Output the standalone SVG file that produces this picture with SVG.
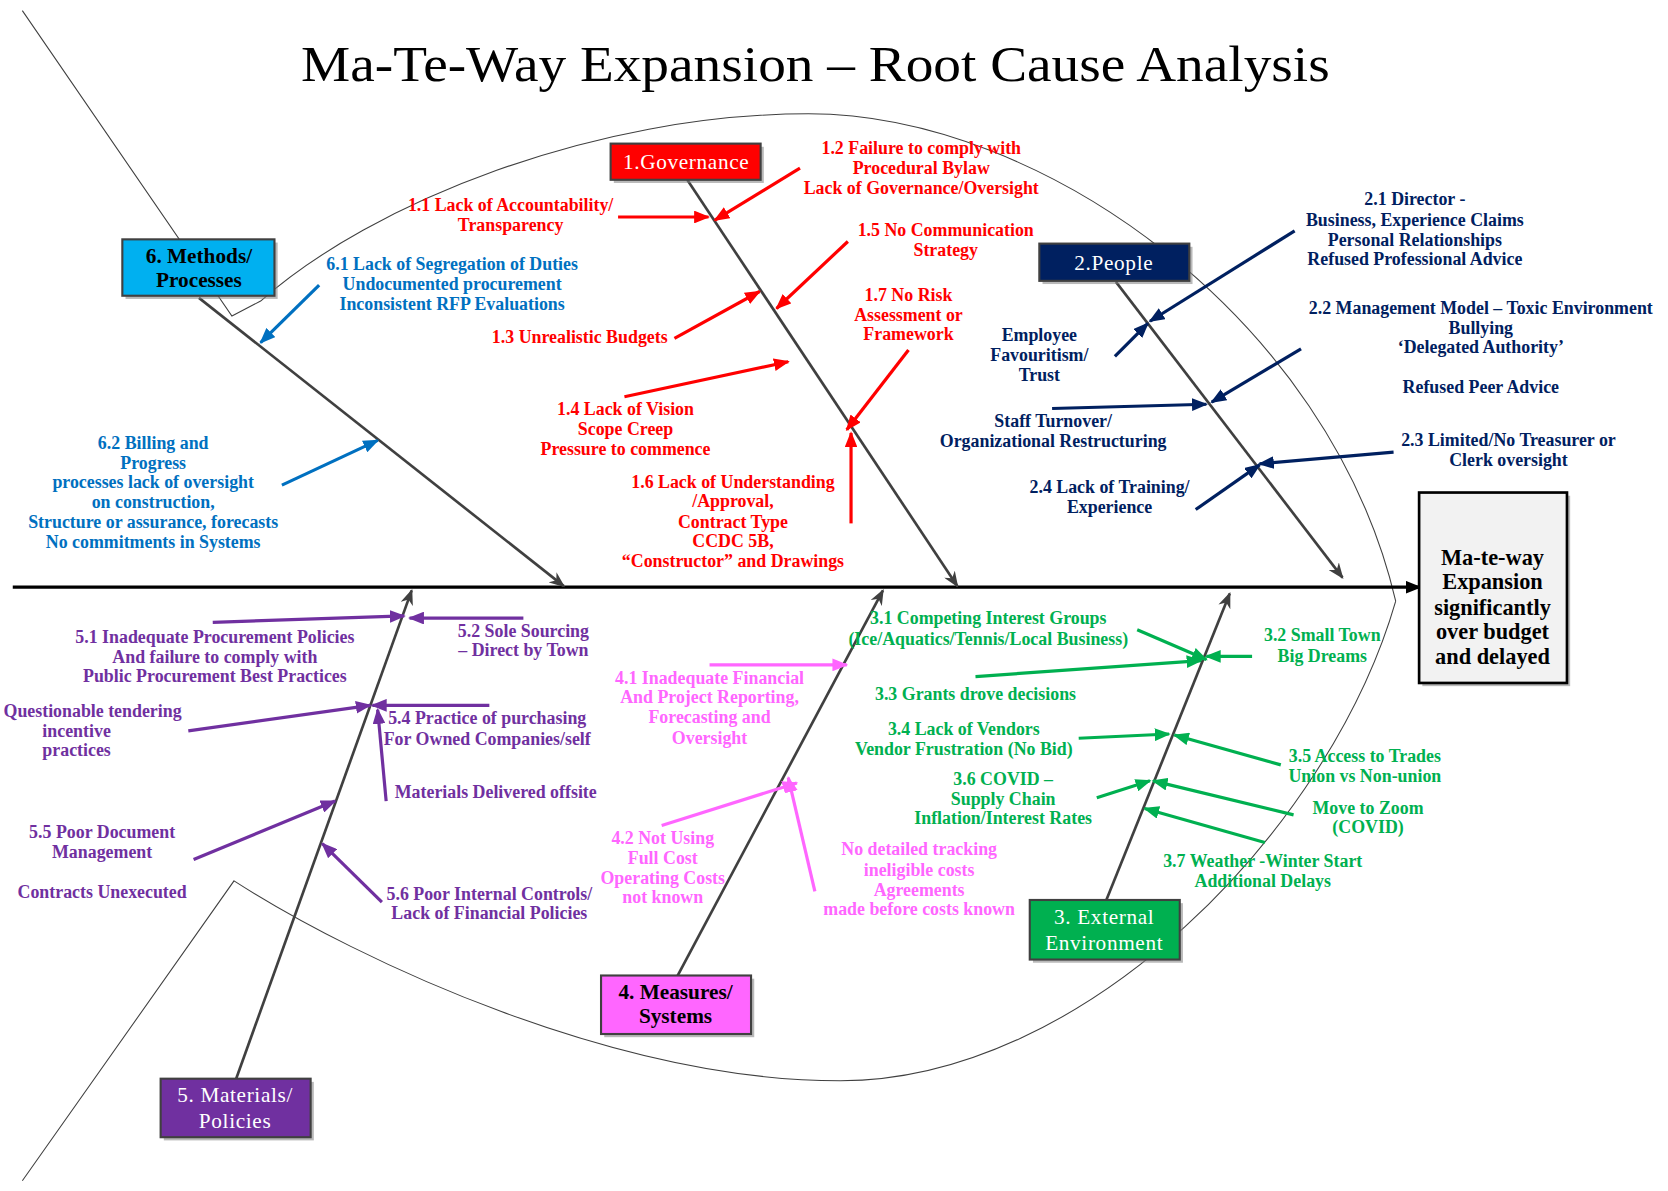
<svg xmlns="http://www.w3.org/2000/svg" width="1668" height="1191" viewBox="0 0 1668 1191">
<style>
text{font-family:"Liberation Serif","Times New Roman",serif;}
.lb{font-size:16.8px;font-weight:bold;text-anchor:middle;}
.r{fill:#ff0000}.p{fill:#002060}.m{fill:#0070c0}.u{fill:#7030a0}.s{fill:#ff66ff}.e{fill:#00b050}
.bx{font-size:20px;text-anchor:middle;}
.w{fill:#ffffff;letter-spacing:0.6px}
.k{fill:#000000;font-weight:bold}
.ef{font-size:21px}
.sh{fill:#808080;opacity:.55}
.bxr{stroke:#404040;stroke-width:2}
.ar{fill:none;stroke-width:3}
.bone{fill:none;stroke:#404040;stroke-width:2.5;marker-end:url(#mg)}
</style>
<defs>
<marker id="mr" viewBox="0 0 10 8" refX="9" refY="4" markerWidth="5" markerHeight="4" orient="auto" markerUnits="strokeWidth"><path d="M0,0 L10,4 L0,8 z" fill="#ff0000"/></marker>
<marker id="mp" viewBox="0 0 10 8" refX="9" refY="4" markerWidth="5" markerHeight="4" orient="auto" markerUnits="strokeWidth"><path d="M0,0 L10,4 L0,8 z" fill="#002060"/></marker>
<marker id="mm" viewBox="0 0 10 8" refX="9" refY="4" markerWidth="5" markerHeight="4" orient="auto" markerUnits="strokeWidth"><path d="M0,0 L10,4 L0,8 z" fill="#0070c0"/></marker>
<marker id="mu" viewBox="0 0 10 8" refX="9" refY="4" markerWidth="5" markerHeight="4" orient="auto" markerUnits="strokeWidth"><path d="M0,0 L10,4 L0,8 z" fill="#7030a0"/></marker>
<marker id="ms" viewBox="0 0 10 8" refX="9" refY="4" markerWidth="5" markerHeight="4" orient="auto" markerUnits="strokeWidth"><path d="M0,0 L10,4 L0,8 z" fill="#ff66ff"/></marker>
<marker id="me" viewBox="0 0 10 8" refX="9" refY="4" markerWidth="5" markerHeight="4" orient="auto" markerUnits="strokeWidth"><path d="M0,0 L10,4 L0,8 z" fill="#00b050"/></marker>
<marker id="mg" viewBox="0 0 10 8" refX="9" refY="4" markerWidth="6" markerHeight="4.8" orient="auto" markerUnits="strokeWidth"><path d="M0,0 L10,4 L0,8 L3,4 z" fill="#404040"/></marker>
<marker id="mk" viewBox="0 0 10 8" refX="9" refY="4" markerWidth="5" markerHeight="4" orient="auto" markerUnits="strokeWidth"><path d="M0,0 L10,4 L0,8 z" fill="#000000"/></marker>
</defs>
<rect x="0" y="0" width="1668" height="1191" fill="#ffffff"/>
<g transform="scale(1.0638)">
<g id="fish-outline" fill="none" stroke="#404040" stroke-width="1">
<path d="M21,10 L218,297 L245,283 C350,190 560,107 760,107 C980,107 1250,300 1312,565"/>
<path d="M21,1110 L220,828 C340,905 580,1016 790,1016 C1020,1016 1250,780 1312,565"/>
</g>
<text id="title" x="283" y="76" font-size="47" textLength="967" lengthAdjust="spacingAndGlyphs">Ma-Te-Way Expansion – Root Cause Analysis</text>

<g id="connectors">
<line x1="12" y1="552" x2="1335" y2="552" stroke="#000" stroke-width="3" marker-end="url(#mk)"/>
<line class="bone" x1="646" y1="169" x2="900" y2="551"/>
<line class="bone" x1="1049" y1="265" x2="1262" y2="543"/>
<line class="bone" x1="187" y1="280" x2="530" y2="551"/>
<line class="bone" x1="222" y1="1014" x2="387" y2="555"/>
<line class="bone" x1="637" y1="917" x2="830" y2="555"/>
<line class="bone" x1="1040" y1="846" x2="1156" y2="558"/>
<g class="ar" stroke="#ff0000" marker-end="url(#mr)">
<line x1="581" y1="204" x2="666" y2="204"/>
<line x1="752" y1="158" x2="672" y2="207"/>
<line x1="634" y1="318" x2="714" y2="274"/>
<line x1="797" y1="227" x2="730" y2="290"/>
<line x1="587" y1="373" x2="741" y2="340"/>
<line x1="854" y1="329" x2="796" y2="404"/>
<line x1="800" y1="492" x2="800" y2="407"/>
</g>
<g class="ar" stroke="#002060" marker-end="url(#mp)">
<line x1="1217" y1="217" x2="1081" y2="302"/>
<line x1="1048" y1="335" x2="1079" y2="304"/>
<line x1="1223" y1="328" x2="1139" y2="378"/>
<line x1="989" y1="384" x2="1134" y2="380"/>
<line x1="1310" y1="425" x2="1184" y2="436"/>
<line x1="1124" y1="479" x2="1184" y2="437"/>
</g>
<g class="ar" stroke="#0070c0" marker-end="url(#mm)">
<line x1="300" y1="268" x2="245" y2="322"/>
<line x1="265" y1="456" x2="355" y2="414"/>
</g>
<g class="ar" stroke="#7030a0" marker-end="url(#mu)">
<line x1="200" y1="585" x2="380" y2="579"/>
<line x1="492" y1="581" x2="385" y2="581"/>
<line x1="177" y1="687" x2="348" y2="663"/>
<line x1="460" y1="663" x2="350" y2="663"/>
<line x1="363" y1="753" x2="355" y2="667"/>
<line x1="182" y1="808" x2="315" y2="753"/>
<line x1="359" y1="848" x2="303" y2="793"/>
</g>
<g class="ar" stroke="#ff66ff" marker-end="url(#ms)">
<line x1="667" y1="625" x2="796" y2="625"/>
<line x1="622" y1="776" x2="749" y2="736"/>
<line x1="766" y1="838" x2="741" y2="731"/>
</g>
<g class="ar" stroke="#00b050" marker-end="url(#me)">
<line x1="1069" y1="592" x2="1134" y2="620"/>
<line x1="1177" y1="617" x2="1134" y2="617"/>
<line x1="917" y1="636" x2="1129" y2="621"/>
<line x1="1014" y1="694" x2="1099" y2="690"/>
<line x1="1204" y1="719" x2="1104" y2="691"/>
<line x1="1031" y1="750" x2="1081" y2="734"/>
<line x1="1216" y1="766" x2="1084" y2="734"/>
<line x1="1189" y1="792" x2="1076" y2="760"/>
</g>
</g>

<g id="cat-governance">
<rect class="sh" x="577" y="138" width="141" height="34"/>
<rect class="bxr" x="574" y="135" width="141" height="34" fill="#ff0000"/>
<text class="bx w" x="645" y="159">1.Governance</text>
</g>
<g id="cat-people">
<rect class="sh" x="980" y="232" width="141" height="35"/>
<rect class="bxr" x="977" y="229" width="141" height="35" fill="#002060"/>
<text class="bx w" x="1047" y="254">2.People</text>
</g>
<g id="cat-methods">
<rect class="sh" x="118" y="228" width="143" height="53"/>
<rect class="bxr" x="115" y="225" width="143" height="53" fill="#00b0f0"/>
<text class="bx k" x="187" y="247">6. Methods/</text>
<text class="bx k" x="187" y="270">Processes</text>
</g>
<g id="cat-materials">
<rect class="sh" x="154" y="1017" width="141" height="55"/>
<rect class="bxr" x="151" y="1014" width="141" height="55" fill="#7030a0"/>
<text class="bx w" x="221" y="1036">5. Materials/</text>
<text class="bx w" x="221" y="1060">Policies</text>
</g>
<g id="cat-measures">
<rect class="sh" x="568" y="920" width="141" height="55"/>
<rect class="bxr" x="565" y="917" width="141" height="55" fill="#ff66ff"/>
<text class="bx k" x="635" y="939">4. Measures/</text>
<text class="bx k" x="635" y="962">Systems</text>
</g>
<g id="cat-external">
<rect class="sh" x="971" y="849" width="141" height="56"/>
<rect class="bxr" x="968" y="846" width="141" height="56" fill="#00b050"/>
<text class="bx w" x="1038" y="869">3. External</text>
<text class="bx w" x="1038" y="893">Environment</text>
</g>
<g id="effect">
<rect class="sh" x="1337" y="466" width="139" height="179"/>
<rect x="1334" y="463" width="139" height="179" fill="#f2f2f2" stroke="#000" stroke-width="2.5"/>
<text class="bx k ef" x="1403" y="531">Ma-te-way</text>
<text class="bx k ef" x="1403" y="554">Expansion</text>
<text class="bx k ef" x="1403" y="578">significantly</text>
<text class="bx k ef" x="1403" y="601">over budget</text>
<text class="bx k ef" x="1403" y="624">and delayed</text>
</g>

<g id="c1-1" class="lb r"><text x="480" y="198">1.1 Lack of Accountability/</text><text x="480" y="217">Transparency</text></g>
<g id="c1-2" class="lb r"><text x="866" y="145">1.2 Failure to comply with</text><text x="866" y="164">Procedural Bylaw</text><text x="866" y="182">Lack of Governance/Oversight</text></g>
<g id="c1-3" class="lb r"><text x="545" y="322">1.3 Unrealistic Budgets</text></g>
<g id="c1-5" class="lb r"><text x="889" y="222">1.5 No Communication</text><text x="889" y="241">Strategy</text></g>
<g id="c1-4" class="lb r"><text x="588" y="390">1.4 Lack of Vision</text><text x="588" y="409">Scope Creep</text><text x="588" y="428">Pressure to commence</text></g>
<g id="c1-7" class="lb r"><text x="854" y="283">1.7 No Risk</text><text x="854" y="302">Assessment or</text><text x="854" y="320">Framework</text></g>
<g id="c1-6" class="lb r"><text x="689" y="459">1.6 Lack of Understanding</text><text x="689" y="477">/Approval,</text><text x="689" y="496">Contract Type</text><text x="689" y="514">CCDC 5B,</text><text x="689" y="533">“Constructor” and Drawings</text></g>

<g id="c2-1" class="lb p"><text x="1330" y="193">2.1 Director -</text><text x="1330" y="212">Business, Experience Claims</text><text x="1330" y="231">Personal Relationships</text><text x="1330" y="249">Refused Professional Advice</text></g>
<g id="c2-emp" class="lb p"><text x="977" y="321">Employee</text><text x="977" y="339">Favouritism/</text><text x="977" y="358">Trust</text></g>
<g id="c2-2" class="lb p"><text x="1392" y="295">2.2 Management Model – Toxic Environment</text><text x="1392" y="314">Bullying</text><text x="1392" y="332">‘Delegated Authority’</text><text x="1392" y="369">Refused Peer Advice</text></g>
<g id="c2-staff" class="lb p"><text x="990" y="401">Staff Turnover/</text><text x="990" y="420">Organizational Restructuring</text></g>
<g id="c2-3" class="lb p"><text x="1418" y="419">2.3 Limited/No Treasurer or</text><text x="1418" y="438">Clerk oversight</text></g>
<g id="c2-4" class="lb p"><text x="1043" y="463">2.4 Lack of Training/</text><text x="1043" y="482">Experience</text></g>

<g id="c6-1" class="lb m"><text x="425" y="254">6.1 Lack of Segregation of Duties</text><text x="425" y="273">Undocumented procurement</text><text x="425" y="291">Inconsistent RFP Evaluations</text></g>
<g id="c6-2" class="lb m"><text x="144" y="422">6.2 Billing and</text><text x="144" y="441">Progress</text><text x="144" y="459">processes lack of oversight</text><text x="144" y="478">on construction,</text><text x="144" y="496">Structure or assurance, forecasts</text><text x="144" y="515">No commitments in Systems</text></g>

<g id="c5-1" class="lb u"><text x="202" y="604">5.1 Inadequate Procurement Policies</text><text x="202" y="623">And failure to comply with</text><text x="202" y="641">Public Procurement Best Practices</text></g>
<g id="c5-2" class="lb u"><text x="492" y="599">5.2 Sole Sourcing</text><text x="492" y="617">– Direct by Town</text></g>
<g id="c5-q" class="lb u"><text x="87" y="674">Questionable tendering</text><text x="72" y="693">incentive</text><text x="72" y="711">practices</text></g>
<g id="c5-4" class="lb u"><text x="458" y="681">5.4 Practice of purchasing</text><text x="458" y="700">For Owned Companies/self</text></g>
<g id="c5-mdo" class="lb u"><text x="466" y="750">Materials Delivered offsite</text></g>
<g id="c5-5" class="lb u"><text x="96" y="788">5.5 Poor Document</text><text x="96" y="807">Management</text></g>
<g id="c5-cu" class="lb u"><text x="96" y="844">Contracts Unexecuted</text></g>
<g id="c5-6" class="lb u"><text x="460" y="846">5.6 Poor Internal Controls/</text><text x="460" y="864">Lack of Financial Policies</text></g>

<g id="c4-1" class="lb s"><text x="667" y="643">4.1 Inadequate Financial</text><text x="667" y="661">And Project Reporting,</text><text x="667" y="680">Forecasting and</text><text x="667" y="699">Oversight</text></g>
<g id="c4-2" class="lb s"><text x="623" y="793">4.2 Not Using</text><text x="623" y="812">Full Cost</text><text x="623" y="831">Operating Costs</text><text x="623" y="849">not known</text></g>
<g id="c4-3" class="lb s"><text x="864" y="804">No detailed tracking</text><text x="864" y="823">ineligible costs</text><text x="864" y="842">Agreements</text><text x="864" y="860">made before costs known</text></g>

<g id="c3-1" class="lb e"><text x="929" y="587">3.1 Competing Interest Groups</text><text x="929" y="606">(Ice/Aquatics/Tennis/Local Business)</text></g>
<g id="c3-2" class="lb e"><text x="1243" y="603">3.2 Small Town</text><text x="1243" y="622">Big Dreams</text></g>
<g id="c3-3" class="lb e"><text x="917" y="658">3.3 Grants drove decisions</text></g>
<g id="c3-4" class="lb e"><text x="906" y="691">3.4 Lack of Vendors</text><text x="906" y="710">Vendor Frustration (No Bid)</text></g>
<g id="c3-5" class="lb e"><text x="1283" y="716">3.5 Access to Trades</text><text x="1283" y="735">Union vs Non-union</text></g>
<g id="c3-6" class="lb e"><text x="943" y="738">3.6 COVID –</text><text x="943" y="757">Supply Chain</text><text x="943" y="775">Inflation/Interest Rates</text></g>
<g id="c3-zoom" class="lb e"><text x="1286" y="765">Move to Zoom</text><text x="1286" y="783">(COVID)</text></g>
<g id="c3-7" class="lb e"><text x="1187" y="815">3.7 Weather -Winter Start</text><text x="1187" y="834">Additional Delays</text></g>
</g>
</svg>
